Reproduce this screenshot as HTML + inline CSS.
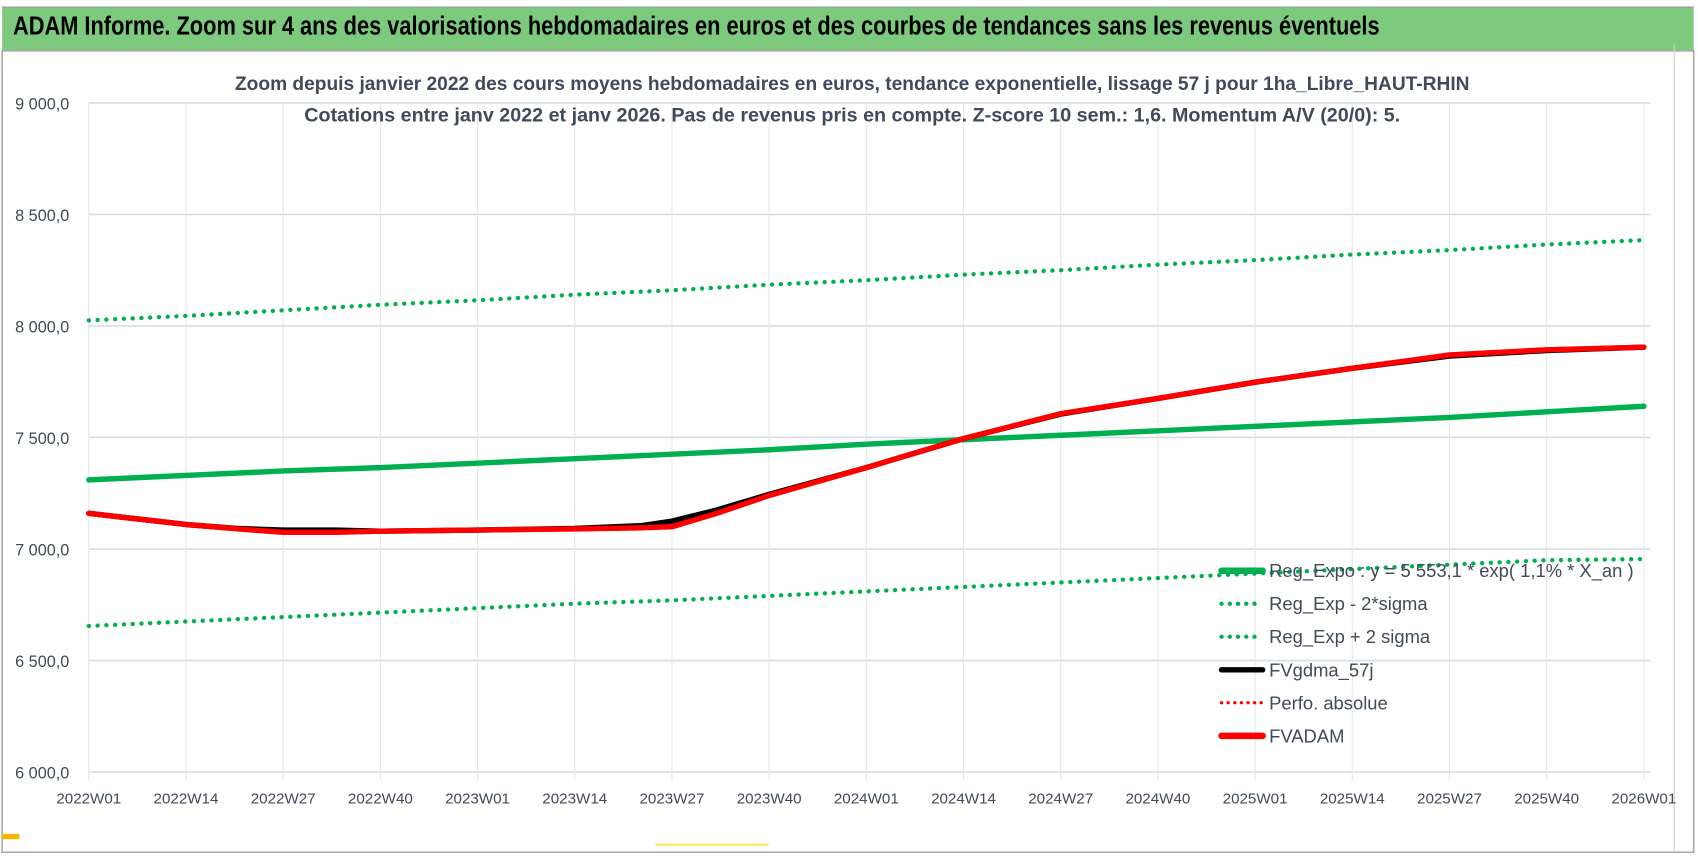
<!DOCTYPE html>
<html><head><meta charset="utf-8"><style>
body{margin:0;background:#fff;width:1698px;height:857px;overflow:hidden;font-family:"Liberation Sans",sans-serif}
#wrap{position:absolute;left:0;top:0;width:1568px;height:791px;transform:scale(1.08291);transform-origin:0 0}
#hdr{position:absolute;left:2px;top:6px;width:1562px;height:40px;background:#7dc97d;border-top:1px solid #999}
#hdr span{position:absolute;left:10px;top:6px;font-size:24px;font-weight:bold;color:#000;white-space:nowrap}
</style></head><body>
<div id="wrap">
<div id="hdr"></div>
<svg id="chart" width="1568" height="791" style="position:absolute;left:0;top:0">
<text x="12" y="32" font-size="24" font-weight="bold" fill="#000" textLength="1262" lengthAdjust="spacingAndGlyphs">ADAM Informe. Zoom sur 4 ans des valorisations hebdomadaires en euros et des courbes de tendances sans les revenus éventuels</text>
<rect x="2" y="47" width="1562" height="740" fill="none" stroke="#aaa" stroke-width="1.5"/>
<line x1="1546" y1="40" x2="1546" y2="787" stroke="#ccc"/>
<rect x="2" y="770" width="16" height="5" fill="#f5b800"/>
<line x1="605" y1="780" x2="710" y2="780" stroke="#ffe94a" stroke-width="2"/>
<g id="grid"></g><g id="series"></g><g id="axes"></g><g id="legend"></g>
<text x="787" y="83" text-anchor="middle" font-size="18" font-weight="bold" fill="#404a5a" textLength="1140" lengthAdjust="spacingAndGlyphs">Zoom depuis janvier 2022 des cours moyens hebdomadaires en euros, tendance exponentielle, lissage 57 j pour 1ha_Libre_HAUT-RHIN</text>
<text x="787" y="112" text-anchor="middle" font-size="18" font-weight="bold" fill="#404a5a" textLength="1012" lengthAdjust="spacingAndGlyphs">Cotations entre janv 2022 et janv 2026. Pas de revenus pris en compte. Z-score 10 sem.: 1,6. Momentum A/V (20/0): 5.</text>
</svg>
</div>
<script>
const tickLabels=["2022W01","2022W14","2022W27","2022W40","2023W01","2023W14","2023W27","2023W40","2024W01","2024W14","2024W27","2024W40","2025W01","2025W14","2025W27","2025W40","2026W01"];
const tickWeeks=[0,13,26,39,52,65,78,91,104,117,130,143,156,169,182,195,208];
const yTicks=[6000,6500,7000,7500,8000,8500,9000];
const regWeeks=[0,13,26,39,52,65,78,91,104,117,130,143,156,169,182,195,208];
const regExpo=[7310,7330,7350,7365,7385,7405,7425,7445,7470,7490,7510,7530,7550,7570,7590,7615,7640];
const regPlus=[8025,8045,8070,8095,8115,8140,8160,8185,8205,8230,8250,8275,8295,8320,8340,8365,8385];
const regMinus=[6655,6675,6695,6715,6735,6755,6770,6790,6810,6830,6850,6870,6890,6910,6930,6950,6955];
const fvWeeks=[0,13,20,26,33,39,52,65,74,78,84,91,104,117,130,143,156,169,182,195,208];
const fvadam=[7160,7110,7090,7075,7075,7080,7085,7090,7095,7100,7160,7240,7365,7495,7607,7675,7748,7810,7870,7893,7905];
const fvgdma=[7160,7110,7092,7085,7085,7080,7085,7092,7105,7125,7175,7245,7365,7495,7605,7675,7748,7810,7865,7890,7905];
const perfo=[7160,7110,7090,7075,7075,7080,7085,7090,7095,7100,7160,7240,7365,7495,7607,7675,7748,7810,7870,7893,7905];

const X=w=>82+w*(1518-82)/208;
const Y=v=>713-(v-6000)*(713-95)/3000;
const NS="http://www.w3.org/2000/svg";
function mk(tag,parent,attrs){const e=document.createElementNS(NS,tag);for(const k in attrs)e.setAttribute(k,attrs[k]);document.getElementById(parent).appendChild(e);return e;}
yTicks.forEach(v=>{
  const l=mk('line','grid',{x1:82,x2:1524,y1:Y(v),y2:Y(v),stroke:'#d9dde3','stroke-width':1.5});
  
  
  const t=mk('text','axes',{x:64,y:Y(v)+6,'text-anchor':'end','font-size':15,fill:'#404a5a'});
  t.textContent=v.toLocaleString('fr-FR').replace(/\s/g,' ')+',0';
  
  
});
tickWeeks.forEach((w,i)=>{
  const l=mk('line','grid',{x1:X(w),x2:X(w),y1:95,y2:720,stroke:'#e3e6ea','stroke-width':1});
  
  
  const t=mk('text','axes',{x:X(w),y:742,'text-anchor':'middle','font-size':14,fill:'#404a5a'});
  t.textContent=tickLabels[i];
  
  
});
function line(ws,vs,stroke,width,dash,name){
  const p=mk('polyline','series',{points:ws.map((w,i)=>X(w)+','+Y(vs[i])).join(' '),fill:'none',stroke:stroke,'stroke-width':width,'stroke-linecap':'round','stroke-linejoin':'round'});
  if(dash)p.setAttribute('stroke-dasharray',dash);
  
  
}
line(regWeeks,regPlus,'#00b050',4,'0.1 8','reg-exp-plus-2-sigma');
line(regWeeks,regMinus,'#00b050',4,'0.1 8','reg-exp-minus-2-sigma');
line(regWeeks,regExpo,'#00b050',5,null,'reg-expo-line');
line(fvWeeks,perfo,'#ff0000',3,'0.1 6','perfo-absolue-line');
line(fvWeeks,fvgdma,'#000',5,null,'fvgdma-57j-line');
line(fvWeeks,fvadam,'#ff0000',5,null,'fvadam-line');
const leg=[["Reg_Expo : y = 5 553,1 * exp( 1,1% * X_an )",'#00b050',6,null],["Reg_Exp - 2*sigma",'#00b050',4,'0.1 7.5'],["Reg_Exp + 2 sigma",'#00b050',4,'0.1 7.5'],["FVgdma_57j",'#000',5,null],["Perfo. absolue",'#ff0000',3,'0.1 6'],["FVADAM",'#ff0000',6,null]];
leg.forEach((e,i)=>{
  const y=527+i*30.5;
  const l=mk('line','legend',{x1:1128,x2:1166,y1:y,y2:y,stroke:e[1],'stroke-width':e[2],'stroke-linecap':'round'});
  if(e[3])l.setAttribute('stroke-dasharray',e[3]);
  
  
  const t=mk('text','legend',{x:1172,y:y+6,'font-size':17,fill:'#404a5a'});
  t.textContent=e[0];
  
  
});
</script>
</body></html>
